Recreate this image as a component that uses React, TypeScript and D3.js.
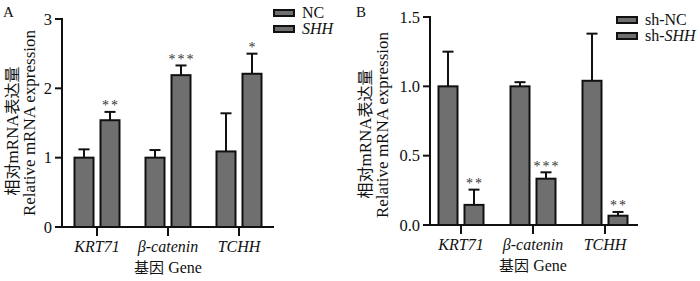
import React from "react";
import * as d3 from "d3";

const categories = ["KRT71", "β-catenin", "TCHH"];

// Panel A
const seriesA = ["NC", "SHH"];
const meanA_NC = [1.0, 1.0, 1.09];
const errA_NC = [0.12, 0.11, 0.55];
const meanA_SHH = [1.54, 2.19, 2.21];
const errA_SHH = [0.12, 0.14, 0.29];
const starsA = ["**", "***", "*"];
const ticksA = [0, 1, 2, 3];
const tickLabelsA = ["0", "1", "2", "3"];

// Panel B
const seriesB = ["sh-NC", "sh-SHH"];
const meanB_NC = [1.0, 1.0, 1.04];
const errB_NC = [0.25, 0.03, 0.34];
const meanB_SHH = [0.145, 0.334, 0.067];
const errB_SHH = [0.11, 0.046, 0.027];
const starsB = ["**", "***", "**"];
const ticksB = [0, 0.5, 1.0, 1.5];
const tickLabelsB = ["0.0", "0.5", "1.0", "1.5"];

const FONT = "Liberation Serif, Times New Roman, serif";
const CJK = "Noto Sans CJK SC, sans-serif";
const BAR_FILL = "#6f6f6f";
const INK = "#111";

type PanelProps = {
  letter: string;
  letterX: number;
  series: string[];
  legendItalic: { pre: string; it: string }[];
  means: number[][];
  errs: number[][];
  stars: string[];
  ticks: number[];
  tickLabels: string[];
  yMax: number;
  yTop: number;
  yBottom: number;
  axisX: number;
  bandRange: [number, number];
  xAxisEnd: number;
  titleX1: number;
  titleX2: number;
  titleY1: number;
  titleY2: number;
  legendX: number;
  legendY: number[];
};

function Panel(p: PanelProps) {
  const y = d3.scaleLinear().domain([0, p.yMax]).range([p.yBottom, p.yTop]);
  const step = (p.bandRange[1] - p.bandRange[0]) / categories.length;
  const pad = (step - 45) / step;
  const x0 = d3
    .scaleBand<string>()
    .domain(categories)
    .range(p.bandRange)
    .paddingInner(pad)
    .paddingOuter(pad / 2);
  const x1 = d3
    .scaleBand<string>()
    .domain(p.series)
    .range([0, x0.bandwidth()])
    .paddingInner(7 / 26);
  const bw = x1.bandwidth();

  return (
    <g style={{ fontFamily: FONT }}>
      <text x={p.letterX} y={17} fontSize={15} fill={INK}>
        {p.letter}
      </text>
      {/* y title */}
      <text
        transform={`translate(${p.titleX1},${p.titleY1}) rotate(-90)`}
        textAnchor="middle"
        fontSize={17}
        fill={INK}
      >
        <tspan style={{ fontFamily: CJK }} fontSize={16}>相对</tspan>mRNA
        <tspan style={{ fontFamily: CJK }} fontSize={16}>表达量</tspan>
      </text>
      <text
        transform={`translate(${p.titleX2},${p.titleY2}) rotate(-90)`}
        textAnchor="middle"
        fontSize={17}
        fill={INK}
      >
        Relative mRNA expression
      </text>
      {/* bars */}
      {categories.map((c, i) =>
        p.series.map((s, j) => {
          const xb = (x0(c) as number) + (x1(s) as number);
          const v = p.means[j][i];
          const e = p.errs[j][i];
          const cx = xb + bw / 2;
          return (
            <g key={c + s}>
              <line x1={cx} x2={cx} y1={y(v)} y2={y(v + e)} stroke={INK} strokeWidth={2} />
              <line x1={cx - 5.5} x2={cx + 5.5} y1={y(v + e)} y2={y(v + e)} stroke={INK} strokeWidth={2} />
              <rect
                x={xb}
                y={y(v)}
                width={bw}
                height={y(0) - y(v)}
                fill={BAR_FILL}
                stroke={INK}
                strokeWidth={2}
              />
              {j === 1 && (
                <text
                  x={cx + 1}
                  y={y(v + e) - 1.5}
                  textAnchor="middle"
                  fontSize={14}
                  letterSpacing={2}
                  fill="#333"
                >
                  {p.stars[i]}
                </text>
              )}
            </g>
          );
        })
      )}
      {/* y axis */}
      <line x1={p.axisX} x2={p.axisX} y1={p.yTop - 1} y2={p.yBottom} stroke={INK} strokeWidth={2} />
      {p.ticks.map((t, k) => (
        <g key={t}>
          <line x1={p.axisX - 7} x2={p.axisX} y1={y(t)} y2={y(t)} stroke={INK} strokeWidth={2} />
          <text x={p.axisX - 10} y={y(t) + 5.5} textAnchor="end" fontSize={16.5} fill={INK}>
            {p.tickLabels[k]}
          </text>
        </g>
      ))}
      {/* x axis */}
      <line x1={p.axisX - 7} x2={p.xAxisEnd} y1={p.yBottom} y2={p.yBottom} stroke={INK} strokeWidth={2} />
      {categories.map((c) => {
        const cx = (x0(c) as number) + x0.bandwidth() / 2;
        return (
          <g key={c}>
            <line x1={cx} x2={cx} y1={p.yBottom} y2={p.yBottom + 9} stroke={INK} strokeWidth={2} />
            <text x={cx} y={p.yBottom + 25} textAnchor="middle" fontSize={16} fontStyle="italic" fill={INK}>
              {c}
            </text>
          </g>
        );
      })}
      <text
        x={(x0(categories[1]) as number) + x0.bandwidth() / 2}
        y={p.yBottom + 46}
        textAnchor="middle"
        fontSize={16}
        fill={INK}
      >
        <tspan style={{ fontFamily: CJK }} fontSize={15}>基因</tspan> Gene
      </text>
      {/* legend */}
      {p.series.map((s, j) => (
        <g key={s}>
          <rect
            x={p.legendX}
            y={p.legendY[j] - 8}
            width={20}
            height={6}
            fill={BAR_FILL}
            stroke={INK}
            strokeWidth={2}
          />
          <text x={p.legendX + 28} y={p.legendY[j]} fontSize={16} fill={INK}>
            {p.legendItalic[j].pre}
            <tspan fontStyle="italic">{p.legendItalic[j].it}</tspan>
          </text>
        </g>
      ))}
    </g>
  );
}

export default function App() {
  return (
    <svg width={700} height={281} style={{ position: "absolute", left: 0, top: 0, background: "#fff" }}>
      <Panel
        letter="A"
        letterX={3}
        series={seriesA}
        legendItalic={[
          { pre: "NC", it: "" },
          { pre: "", it: "SHH" },
        ]}
        means={[meanA_NC, meanA_SHH]}
        errs={[errA_NC, errA_SHH]}
        stars={starsA}
        ticks={ticksA}
        tickLabels={tickLabelsA}
        yMax={3}
        yTop={19}
        yBottom={227}
        axisX={62}
        bandRange={[61.5, 274.5]}
        xAxisEnd={274}
        titleX1={18}
        titleX2={35}
        titleY1={131}
        titleY2={123}
        legendX={274}
        legendY={[18, 34]}
      />
      <Panel
        letter="B"
        letterX={356}
        series={seriesB}
        legendItalic={[
          { pre: "sh-NC", it: "" },
          { pre: "sh-", it: "SHH" },
        ]}
        means={[meanB_NC, meanB_SHH]}
        errs={[errB_NC, errB_SHH]}
        stars={starsB}
        ticks={ticksB}
        tickLabels={tickLabelsB}
        yMax={1.5}
        yTop={17}
        yBottom={225}
        axisX={430}
        bandRange={[425, 641]}
        xAxisEnd={638}
        titleX1={371}
        titleX2={388}
        titleY1={134}
        titleY2={125}
        legendX={617}
        legendY={[25, 41]}
      />
    </svg>
  );
}
